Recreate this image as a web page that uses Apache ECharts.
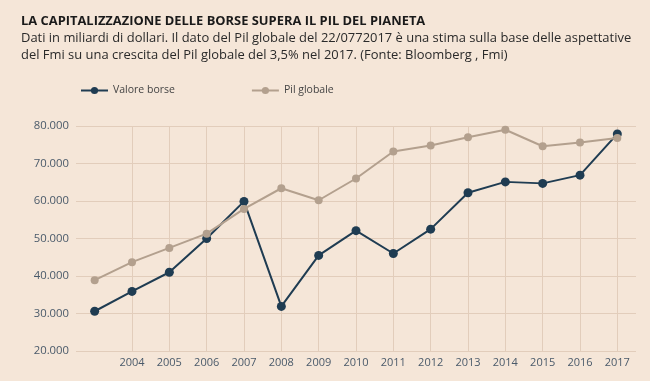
<!DOCTYPE html>
<html><head><meta charset="utf-8">
<script src="https://cdn.jsdelivr.net/npm/echarts@6/dist/echarts.min.js"></script>
<style>html,body{margin:0;padding:0;background:#f5e6d8;}#c{width:650px;height:381px;}</style>
</head><body><div id="c"></div>
<script>
const years = ['2003','2004','2005','2006','2007','2008','2009','2010','2011','2012','2013','2014','2015','2016','2017'];
const valoreBorse = [30600, 35900, 41000, 50000, 59900, 31900, 45500, 52100, 46000, 52500, 62200, 65100, 64700, 66900, 77900];
const pilGlobale = [38900, 43700, 47500, 51300, 57900, 63400, 60200, 66000, 73200, 74800, 77000, 79000, 74600, 75600, 76800];
const yTicks = [20000, 30000, 40000, 50000, 60000, 70000, 80000];

const chart = echarts.init(document.getElementById('c'), null, {renderer:'canvas'});
const fmt = v => (v/1000).toFixed(0) + '.000';
const F = 'Open Sans';
chart.setOption({
  backgroundColor: '#f5e6d8',
  animation: false,
  title: {
    text: 'LA CAPITALIZZAZIONE DELLE BORSE SUPERA IL PIL DEL PIANETA',
    subtext: 'Dati in miliardi di dollari. Il dato del Pil globale del 22/0772017 è una stima sulla base delle aspettative\ndel Fmi su una crescita del Pil globale del 3,5% nel 2017. (Fonte: Bloomberg , Fmi)',
    left: 16, top: 9, itemGap: 2,
    textStyle: {fontFamily: F, fontWeight: 'bold', fontSize: 12.9, lineHeight: 14, color: '#1a1a1a'},
    subtextStyle: {fontFamily: F, fontSize: 12.95, color: '#2a2a2a', lineHeight: 17}
  },
  legend: {
    left: 75, top: 80, itemWidth: 27, itemHeight: 9, itemGap: 76,
    textStyle: {fontFamily: F, fontSize: 10.5, color: '#444'},
    data: ['Valore borse', 'Pil globale']
  },
  grid: {left: 76, right: 14, top: 126, bottom: 30},
  xAxis: {
    type: 'category', data: years, boundaryGap: true,
    axisLine: {show: false},
    axisTick: {show: true, alignWithLabel: true, inside: true, length: 225, interval: (i) => i > 0,
      lineStyle: {color: '#e2cdbb', width: 1}},
    axisLabel: {interval: (i) => i > 0, margin: 6, fontFamily: F, fontSize: 11, color: '#4a5a6a'},
    splitLine: {show: false}
  },
  yAxis: {
    type: 'value', min: yTicks[0], max: yTicks[yTicks.length-1], interval: 10000,
    axisLine: {show: false}, axisTick: {show: false},
    axisLabel: {formatter: fmt, margin: 7, fontFamily: F, fontSize: 11.3, color: '#4a5a6a'},
    splitLine: {lineStyle: {color: '#e2cdbb', width: 1}}
  },
  series: [
    {name: 'Pil globale', type: 'line', data: pilGlobale, symbol: 'circle', symbolSize: 8,
     itemStyle: {color: '#b3a08e'}, lineStyle: {color: '#b3a08e', width: 2}, z: 2},
    {name: 'Valore borse', type: 'line', data: valoreBorse, symbol: 'circle', symbolSize: 9,
     itemStyle: {color: '#1f3c52'}, lineStyle: {color: '#1f3c52', width: 2}, z: 1}
  ]
});
</script></body></html>
